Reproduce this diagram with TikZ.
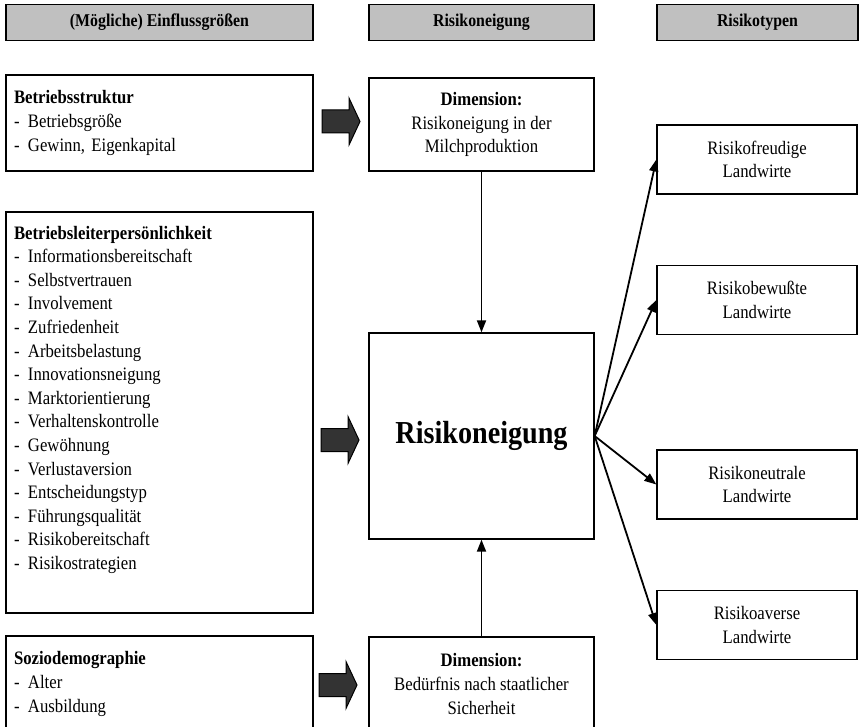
\documentclass[tikz,border=0pt]{standalone}
\usepackage{fontspec}
\setmainfont{Liberation Serif}[FakeStretch=0.88]
\usetikzlibrary{arrows.meta,positioning}

\definecolor{kopfgrau}{HTML}{C0C0C0}
\definecolor{pfeilgrau}{HTML}{333333}
\newcommand{\punkt}[1]{\makebox[14pt][l]{-}#1}

\begin{document}
\begin{tikzpicture}[x=1pt,y=-1pt,>={Triangle[length=12pt,width=9pt]},line width=1.3pt]
\tikzstyle{every node}=[font=\fontsize{19}{23.6}\selectfont]
\tikzstyle{kopf}=[draw,line width=1.5pt,fill=kopfgrau,minimum height=36pt,inner sep=0pt,font=\bfseries\fontsize{18}{20}\selectfont]
\tikzstyle{linkbox}=[draw,minimum width=307pt,inner xsep=8pt,inner ysep=0pt]
\tikzstyle{mittebox}=[draw,minimum width=225pt,align=center,inner sep=0pt]
\tikzstyle{typbox}=[draw,minimum width=200pt,minimum height=69pt,align=center,inner sep=0pt]
\tikzstyle{blockpfeil}=[draw=black,fill=pfeilgrau,line width=1pt,line join=miter]
\tikzstyle{pfeil}=[->,line width=1.8pt]

\useasboundingbox (0,0) rectangle (860,727);

% Kopfzeile
\node[kopf,minimum width=307pt] (kopf1) at (159.5,22.5) {(Mögliche) Einflussgrößen};
\node[kopf,minimum width=225pt] (kopf2) at (481.5,22.5) {Risikoneigung};
\node[kopf,minimum width=201pt] (kopf3) at (757.5,22.5) {Risikotypen};

% Einflussgroessen
\node[linkbox,minimum height=96pt,align=left,text width=291pt] (struktur) at (159.5,123)
  {\textbf{Betriebsstruktur}\\ \punkt{Betriebsgröße}\\ \punkt{Gewinn, Eigenkapital}};
\node[linkbox,minimum height=401pt] (leiter) at (159.5,412.5) {};
\node[anchor=north west,align=left,text width=291pt,inner xsep=8pt,inner ysep=14pt] (leitertext) at (leiter.north west)
  {\textbf{Betriebsleiterpersönlichkeit}\\
   \punkt{Informationsbereitschaft}\\
   \punkt{Selbstvertrauen}\\
   \punkt{Involvement}\\
   \punkt{Zufriedenheit}\\
   \punkt{Arbeitsbelastung}\\
   \punkt{Innovationsneigung}\\
   \punkt{Marktorientierung}\\
   \punkt{Verhaltenskontrolle}\\
   \punkt{Gewöhnung}\\
   \punkt{Verlustaversion}\\
   \punkt{Entscheidungstyp}\\
   \punkt{Führungsqualität}\\
   \punkt{Risikobereitschaft}\\
   \punkt{Risikostrategien}};
\node[linkbox,minimum height=96pt,align=left,text width=291pt] (sozio) at (159.5,684)
  {\textbf{Soziodemographie}\\ \punkt{Alter}\\ \punkt{Ausbildung}};

% Risikoneigung
\node[mittebox,minimum height=93pt] (dim1) at (481.5,124.5) {\textbf{Dimension:}\\ Risikoneigung in der\\ Milchproduktion};
\node[mittebox,minimum height=206pt,font=\bfseries\fontsize{32}{36}\selectfont] (kern) at (481.5,436) {Risikoneigung};
\node[mittebox,minimum height=94pt] (dim2) at (481.5,684) {\textbf{Dimension:}\\ Bedürfnis nach staatlicher\\ Sicherheit};

% Risikotypen
\node[typbox] (freudig) at (757,159.5) {Risikofreudige\\ Landwirte};
\node[typbox] (bewusst) at (757,300) {Risikobewußte\\ Landwirte};
\node[typbox] (neutral) at (757,484.5) {Risikoneutrale\\ Landwirte};
\node[typbox] (avers) at (757,625) {Risikoaverse\\ Landwirte};

% Blockpfeile
\foreach \x/\y in {322/121.5,321/440,319/685}
  \draw[blockpfeil] (\x,\y-11.5) -- ++(27,0) -- ++(0,-12) -- ++(11,23.5) -- ++(-11,23.5) -- ++(0,-12) -- ++(-27,0) -- cycle;

\draw[pfeil] (dim1) -- (kern);
\draw[pfeil] (dim2) -- (kern);
\foreach \typ in {freudig,bewusst,neutral,avers}
  \draw[pfeil] (kern.east) -- (\typ.west);
\end{tikzpicture}
\end{document}
